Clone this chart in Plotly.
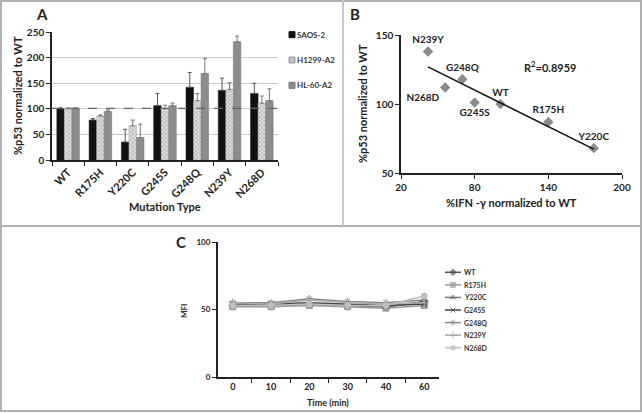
import numpy as np
import plotly.graph_objects as go

W, H = 642, 413
FONT = "Lato"

# ---------------- Panel A data ----------------
mutations = ["WT", "R175H", "Y220C", "G245S", "G248Q", "N239Y", "N268D"]
cell_lines = ["SAOS-2", "H1299-A2", "HL-60-A2"]
saos2 = [100, 78, 35, 106, 142, 136, 130]
saos2_err = [2, 3, 25, 24, 29, 24, 20]
h1299 = [100, 86, 67, 100, 116, 138, 111]
h1299_err = [2, 2, 11, 7, 14, 13, 14]
hl60 = [100, 95, 44, 106, 169, 231, 116]
hl60_err = [2, 3, 26, 5, 29, 11, 23]
ref_line = 101

# ---------------- Panel B data ----------------
b_labels = ["N239Y", "G248Q", "N268D", "G245S", "WT", "R175H", "Y220C"]
ifn = [42, 70, 56, 80, 101, 140, 177]
p53 = [138, 118, 112, 101, 100, 87, 68]
b_textpos = ["top center", "top center", "bottom left", "bottom center",
             "top center", "top center", "top center"]
r2_text = "R<sup>2</sup>=0.8959"

# ---------------- Panel C data ----------------
times = ["0", "10", "20", "30", "40", "60"]
c_names = ["WT", "R175H", "Y220C", "G245S", "G248Q", "N239Y", "N268D"]
c_values = {
    "WT":    [53, 53, 54, 53, 52, 56],
    "R175H": [52, 52, 53, 52, 51, 53],
    "Y220C": [53, 53, 54, 53, 52, 55],
    "G245S": [54, 54, 55, 54, 53, 54],
    "G248Q": [55, 55, 58, 56, 55, 57],
    "N239Y": [55, 54, 57, 55, 54, 55],
    "N268D": [53, 53, 54, 53, 53, 60],
}
c_colors = ["#555555", "#9a9a9a", "#777777", "#444444", "#888888", "#aaaaaa", "#bdbdbd"]
c_symbols = ["diamond", "square", "triangle-up", "x-thin-open", "asterisk-open",
             "cross-thin-open", "circle"]


def px_x(p):
    return p / W


def px_y(p):
    return 1 - p / H


fig = go.Figure()

# ---- Panel A bars ----
a_colors = ["#111111", "#d9d9d9", "#8c8c8c"]
common_err = dict(type="data", symmetric=False, thickness=1, width=2)
fig.add_trace(go.Bar(
    x=mutations, y=saos2, name=cell_lines[0], marker=dict(color=a_colors[0], line=dict(color="#111", width=0.5)),
    error_y=dict(array=saos2_err, arrayminus=[0] * 7, color="#555", **common_err),
    xaxis="x", yaxis="y", showlegend=False))
fig.add_trace(go.Bar(
    x=mutations, y=h1299, name=cell_lines[1],
    marker=dict(color=a_colors[1], line=dict(color="#aaa", width=0.5),
                pattern=dict(shape="x", fgcolor="#707070", bgcolor="#e0e0e0", size=3, solidity=0.4)),
    error_y=dict(array=h1299_err, arrayminus=[0] * 7, color="#777", **common_err),
    xaxis="x", yaxis="y", showlegend=False))
fig.add_trace(go.Bar(
    x=mutations, y=hl60, name=cell_lines[2], marker=dict(color=a_colors[2], line=dict(color="#777", width=0.5)),
    error_y=dict(array=hl60_err, arrayminus=[0] * 7, color="#777", **common_err),
    xaxis="x", yaxis="y", showlegend=False))

# custom legend for panel A
a_leg_fill = ["#111111", "#c4c4c4", "#8c8c8c"]
a_leg_line = ["#111111", "#999999", "#777777"]
for i, name in enumerate(cell_lines):
    fig.add_trace(go.Scatter(
        x=[0], y=[i], mode="markers",
        marker=dict(symbol="square", size=6, color=a_leg_fill[i], line=dict(color=a_leg_line[i], width=1)),
        xaxis="x5", yaxis="y5", showlegend=False, hoverinfo="skip"))
    fig.add_annotation(x=0, y=i, xref="x5", yref="y5", text=f"<b>{name}</b>", showarrow=False,
                       xanchor="left", xshift=3, font=dict(family=FONT, size=8, color="#333"))

# ---- Panel B ----
fig.add_trace(go.Scatter(
    x=ifn, y=p53, mode="markers+text", text=[f"<b>{t}</b>" for t in b_labels], textposition=b_textpos,
    textfont=dict(family=FONT, size=10, color="#222"),
    marker=dict(symbol="diamond", size=8, color="#8a8a8a"),
    xaxis="x2", yaxis="y2", showlegend=False, cliponaxis=False))
coef = np.polyfit(ifn, p53, 1)
fx = np.array([min(ifn), max(ifn)])
fig.add_trace(go.Scatter(
    x=fx, y=np.polyval(coef, fx), mode="lines", line=dict(color="#111", width=1.5),
    xaxis="x2", yaxis="y2", showlegend=False, hoverinfo="skip"))

# ---- Panel C ----
for name, col, sym in zip(c_names, c_colors, c_symbols):
    fig.add_trace(go.Scatter(
        x=times, y=c_values[name], mode="lines+markers", name=name,
        line=dict(color=col, width=1.5),
        marker=dict(symbol=sym, size=6, color=col, line=dict(color=col, width=1)),
        xaxis="x3", yaxis="y3", showlegend=False))

# custom legend for panel C
for i, (name, col, sym) in enumerate(zip(c_names, c_colors, c_symbols)):
    fig.add_trace(go.Scatter(
        x=[0, 0.5, 1], y=[i, i, i], mode="lines+markers",
        line=dict(color=col, width=1.5),
        marker=dict(symbol=sym, size=[0, 5, 0], color=col, line=dict(color=col, width=1)),
        xaxis="x4", yaxis="y4", showlegend=False, hoverinfo="skip"))
    fig.add_annotation(x=1, y=i, xref="x4", yref="y4", text=f"<b>{name}</b>", showarrow=False,
                       xanchor="left", xshift=1,
                       font=dict(family=FONT, size=7, color="#333"))

axis_font = dict(family=FONT, size=10, color="#222", weight="bold")

fig.update_layout(
    width=W, height=H, margin=dict(l=0, r=0, t=0, b=0, autoexpand=False),
    paper_bgcolor="white", plot_bgcolor="white",
    font=dict(family=FONT, color="#222"),
    barmode="group", bargap=0.3, bargroupgap=0,
    showlegend=False,
    xaxis=dict(domain=[px_x(52), px_x(278)], type="category", showline=True,
               linecolor="#222", linewidth=1.5, ticks="outside", tickson="boundaries",
               ticklen=4, tickcolor="#222", tickangle=-45, automargin=False,
               tickfont=dict(family=FONT, size=11, color="#222", weight="bold"), anchor="y"),
    yaxis=dict(domain=[px_y(160), px_y(32)], range=[0, 250], tickvals=[0, 50, 100, 150, 200, 250],
               showline=True, linecolor="#222", linewidth=1.5, ticks="outside", ticklen=4,
               tickcolor="#222", showgrid=True, gridcolor="#c8c8c8", gridwidth=1, automargin=False,
               zeroline=False, tickfont=axis_font, anchor="x"),
    xaxis2=dict(domain=[px_x(401), px_x(622)], range=[20, 200], tickvals=[20, 80, 140, 200],
                showline=True, linecolor="#222", linewidth=1.5, ticks="outside", ticklen=4,
                tickcolor="#222", showgrid=False, zeroline=False, tickfont=axis_font, anchor="y2",
                automargin=False),
    yaxis2=dict(domain=[px_y(173), px_y(35)], range=[50, 150], tickvals=[50, 100, 150],
                showline=True, linecolor="#222", linewidth=1.5, ticks="outside", ticklen=4,
                tickcolor="#222", showgrid=False, zeroline=False, tickfont=axis_font, anchor="x2",
                automargin=False),
    xaxis3=dict(domain=[px_x(218), px_x(439)], type="category", showline=True,
                linecolor="#222", linewidth=2, ticks="outside", tickson="boundaries",
                ticklen=4, tickcolor="#222", showgrid=False, automargin=False,
                tickfont=dict(family=FONT, size=9, color="#222", weight="bold"), anchor="y3"),
    yaxis3=dict(domain=[px_y(377), px_y(242)], range=[0, 100], tickvals=[0, 50, 100],
                showline=True, linecolor="#222", linewidth=2, ticks="outside", ticklen=4,
                tickcolor="#222", showgrid=False, zeroline=False, automargin=False,
                tickfont=dict(family=FONT, size=8, color="#222", weight="bold"), anchor="x3"),
    xaxis4=dict(domain=[px_x(445), px_x(461)], range=[0, 1], visible=False, anchor="y4", automargin=False),
    yaxis4=dict(domain=[px_y(354), px_y(266)], range=[6.5, -0.5], visible=False, anchor="x4", automargin=False),
    xaxis5=dict(domain=[px_x(288), px_x(296)], range=[-0.5, 0.5], visible=False, anchor="y5", automargin=False),
    yaxis5=dict(domain=[px_y(98), px_y(22)], range=[2.5, -0.5], visible=False, anchor="x5", automargin=False),
)

# dashed reference line at ~100 in panel A
fig.add_shape(type="line", xref="x domain", yref="y", x0=0, x1=1, y0=ref_line, y1=ref_line,
              line=dict(color="#666", width=1.3, dash="dash"))

# panel borders
fig.add_shape(type="rect", xref="paper", yref="paper", x0=px_x(1), x1=px_x(641),
              y0=px_y(411), y1=px_y(1), line=dict(color="#b0b0b0", width=2))
fig.add_shape(type="line", xref="paper", yref="paper", x0=0, x1=1, y0=px_y(226), y1=px_y(226),
              line=dict(color="#b0b0b0", width=2))
fig.add_shape(type="line", xref="paper", yref="paper", x0=px_x(343), x1=px_x(343),
              y0=px_y(226), y1=1, line=dict(color="#c8c8c8", width=2))


def ann(x, y, text, size=10, angle=0):
    fig.add_annotation(x=px_x(x), y=px_y(y), xref="paper", yref="paper", text=f"<b>{text}</b>",
                       showarrow=False, textangle=angle, xanchor="center", yanchor="middle",
                       font=dict(family=FONT, size=size, color="#222"))


ann(42, 14, "A", 15)
ann(355, 14, "B", 15)
ann(181, 242, "C", 15)
ann(17, 96, "%p53 normalized to WT", 11, -90)
ann(165, 206, "Mutation Type", 11)
ann(363, 104, "%p53 normalized to WT", 11, -90)
ann(511, 202, "%IFN -γ normalized to WT", 11)
ann(328, 402, "Time (min)", 9)
ann(184, 311, "MFI", 8, -90)

# R^2 annotation in data coords of panel B
fig.add_annotation(x=141, y=127, xref="x2", yref="y2", text=f"<b>{r2_text}</b>", showarrow=False,
                   font=dict(family=FONT, size=11, color="#222"))

fig.write_html("out.html", config={"displayModeBar": False},
               post_script="document.body.style.margin='0';")
